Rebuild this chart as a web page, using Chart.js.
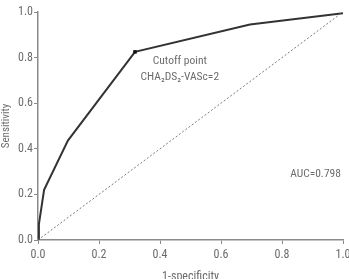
<!DOCTYPE html>
<html>
<head>
<meta charset="utf-8">
<script src="https://cdn.jsdelivr.net/npm/chart.js@4/dist/chart.umd.min.js"></script>
<style>
  html, body { margin: 0; padding: 0; background: #fff; }
  #wrap { width: 349px; height: 279px; }
</style>
</head>
<body>
<div id="wrap"><canvas id="roc"></canvas></div>
<script>
// ROC curve
const fpr = [0, 0.003, 0.02, 0.098, 0.318, 0.695, 1.0];
const tpr = [0, 0.07, 0.22, 0.436, 0.825, 0.945, 0.995];
const cutoffIndex = 4;
const chanceLine = [0, 1];
const axisTicks = [0, 0.2, 0.4, 0.6, 0.8, 1.0];
const notes = [
  { x: 0.465, y: 0.784, text: 'Cutoff point' },
  { x: 0.465, y: 0.714, text: 'CHA\u2082DS\u2082-VASc=2' },
  { x: 0.91, y: 0.29, text: 'AUC=0.798' }
];

const FONT = '"Liberation Sans Narrow", "Roboto Condensed", "Liberation Sans", sans-serif';
const GREY = '#6b6b6b';
const AXIS = '#8a8a8a';

const notesPlugin = {
  id: 'notes',
  afterDatasetsDraw(chart) {
    const { ctx, scales } = chart;
    ctx.save();
    ctx.fillStyle = GREY;
    ctx.font = '11.5px ' + FONT;
    ctx.textAlign = 'center';
    ctx.textBaseline = 'middle';
    notes.forEach(n => {
      ctx.fillText(n.text, scales.x.getPixelForValue(n.x), scales.y.getPixelForValue(n.y));
    });
    ctx.restore();
  }
};

function fixPad(scale) {
  scale.paddingLeft = 0;
  scale.paddingRight = 0;
  scale.paddingTop = 0;
  scale.paddingBottom = 0;
}

new Chart(document.getElementById('roc'), {
  type: 'scatter',
  data: {
    datasets: [
      {
        data: chanceLine.map(v => ({ x: v, y: v })),
        showLine: true,
        borderColor: '#7a7a7a',
        borderWidth: 1,
        borderDash: [2, 2],
        pointRadius: 0
      },
      {
        data: fpr.map((x, i) => ({ x, y: tpr[i] })),
        showLine: true,
        borderColor: '#333',
        borderWidth: 2,
        pointStyle: 'rect',
        pointRadius: fpr.map((_, i) => i === cutoffIndex ? 2.5 : 0),
        pointBackgroundColor: '#111',
        pointBorderColor: '#111',
        pointBorderWidth: 0
      }
    ]
  },
  options: {
    responsive: true,
    maintainAspectRatio: false,
    animation: false,
    layout: { padding: { top: 12, right: 6, left: 0, bottom: 0 } },
    plugins: { legend: { display: false }, tooltip: { enabled: false } },
    scales: {
      x: {
        type: 'linear', min: 0, max: 1,
        afterBuildTicks: s => { s.ticks = axisTicks.map(v => ({ value: v })); },
        afterFit: s => { s.height = 39; fixPad(s); },
        border: { color: AXIS, width: 1.5 },
        grid: { drawOnChartArea: false, drawTicks: true, tickLength: 4, color: AXIS, tickColor: AXIS },
        ticks: { color: GREY, font: { family: FONT, size: 12 }, padding: 4, maxRotation: 0, callback: v => v.toFixed(1) },
        title: { display: true, text: '1-specificity', color: GREY, font: { family: FONT, size: 12 }, padding: { top: 4, bottom: -5 } }
      },
      y: {
        type: 'linear', min: 0, max: 1,
        afterBuildTicks: s => { s.ticks = axisTicks.map(v => ({ value: v })); },
        afterFit: s => { s.width = 38; fixPad(s); },
        border: { color: AXIS, width: 1.5 },
        grid: { drawOnChartArea: false, drawTicks: true, tickLength: 4, color: AXIS, tickColor: AXIS },
        ticks: { color: GREY, font: { family: FONT, size: 12 }, padding: 1, callback: v => v.toFixed(1) },
        title: { display: true, text: 'Sensitivity', color: GREY, font: { family: FONT, size: 11 }, padding: { top: 0, bottom: 0 } }
      }
    }
  },
  plugins: [notesPlugin]
});
</script>
</body>
</html>
